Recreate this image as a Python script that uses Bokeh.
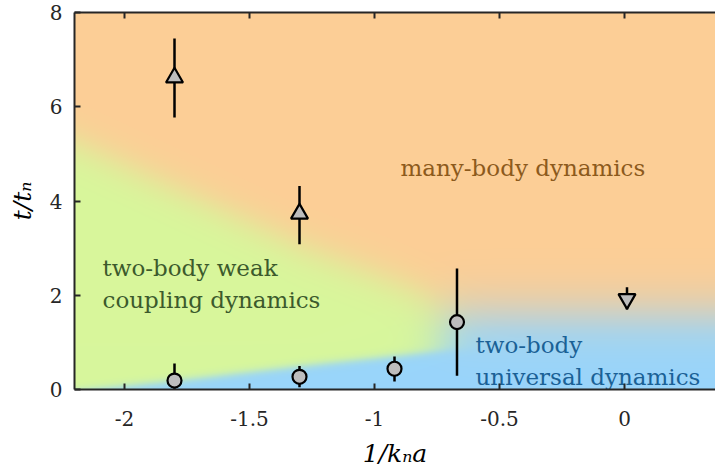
import numpy as np
from bokeh.plotting import figure
from bokeh.models import FixedTicker, LinearAxis, Range1d
from bokeh.core.properties import value
from bokeh.embed import file_html
from bokeh.resources import INLINE

# ---------------- data ----------------
up_x = [-1.8, -1.3]
up_y = [6.62, 3.73]
up_lo = [5.77, 3.08]
up_hi = [7.45, 4.32]

circ_x = [-1.8, -1.3, -0.92, -0.67]
circ_y = [0.19, 0.27, 0.44, 1.43]
circ_lo = [0.0, 0.05, 0.17, 0.29]
circ_hi = [0.55, 0.50, 0.70, 2.57]

down_x = [0.01]
down_y = [1.92]
down_lo = [1.70]
down_hi = [2.17]

x_ticks = [-2, -1.5, -1, -0.5, 0]
x_tick_labels = ["-2", "-1.5", "-1", "-0.5", "0"]
y_ticks = [0, 2, 4, 6, 8]
y_tick_labels = ["0", "2", "4", "6", "8"]

# region boundaries (control points)
og_x = [-2.2, -1.3, -0.75, 0.4]      # orange / green boundary
og_y = [5.25, 3.05, 1.95, 1.95]
gb_x = [-2.2, -1.8, -1.3, -0.7, 0.4]  # green / blue boundary
gb_y = [-0.05, 0.17, 0.48, 0.82, 0.82]
green_edge = -0.73                    # right end of green region
bo_level = 1.6                        # blue / orange boundary on the right

region_labels = ["many-body dynamics", "two-body weak", "coupling dynamics",
                 "two-body", "universal dynamics"]
region_colors = ["#8c5a1c", "#3c5a2c", "#3c5a2c", "#1a6196", "#1a6196"]
label_x = [-0.896, -2.088, -2.088, -0.596, -0.596]
label_y = [4.69, 2.57, 1.89, 0.95, 0.27]

x_lo, x_hi = -2.2, 0.364
y_lo, y_hi = 0.0, 8.0

# ---------------- background field ----------------
orange = np.array([253, 206, 150], float)
green = np.array([216, 247, 156], float)
blue = np.array([153, 213, 251], float)

nx, ny = 520, 380
xs = np.linspace(x_lo, x_hi, nx)
ys = np.linspace(y_lo, y_hi, ny)
X, Y = np.meshgrid(xs, ys)


def sig(t):
    return 1.0 / (1.0 + np.exp(-t))


s_og = sig((Y - np.interp(X, og_x, og_y)) / 0.24)[..., None]
s_gb = sig((Y - np.interp(X, gb_x, gb_y)) / 0.05)[..., None]
s_r = sig((X - green_edge) / 0.05)[..., None]
s_bo = sig((Y - bo_level) / 0.3)[..., None]

c_left = blue * (1 - s_gb) + green * s_gb
c_left = c_left * (1 - s_og) + orange * s_og
c_right = blue * (1 - s_bo) + orange * s_bo
col = c_left * (1 - s_r) + c_right * s_r

rgba = np.empty((ny, nx, 4), dtype=np.uint8)
rgba[..., :3] = np.clip(col, 0, 255).astype(np.uint8)
rgba[..., 3] = 255
img = rgba.view(dtype=np.uint32).reshape((ny, nx))

# ---------------- figure ----------------
FONT = "DejaVu Serif"
AX = "#262626"

p = figure(width=715, height=470, x_range=Range1d(x_lo, x_hi), y_range=Range1d(y_lo, y_hi),
           output_backend="svg", toolbar_location=None,
           min_border_left=74, min_border_right=0, min_border_top=12, min_border_bottom=80)
p.outline_line_color = None
p.xgrid.visible = False
p.ygrid.visible = False

p.image_rgba(image=[img], x=x_lo, y=y_lo, dw=x_hi - x_lo, dh=y_hi - y_lo)

p.segment(x0=up_x, y0=up_lo, x1=up_x, y1=up_hi, line_color="black", line_width=2.5)
p.segment(x0=circ_x, y0=circ_lo, x1=circ_x, y1=circ_hi, line_color="black", line_width=2.5)
p.segment(x0=down_x, y0=down_lo, x1=down_x, y1=down_hi, line_color="black", line_width=2.5)

p.scatter(up_x, up_y, marker="triangle", size=17, fill_color="#bdbdbd",
          line_color="black", line_width=2.2)
p.scatter(circ_x, circ_y, marker="circle", size=14, fill_color="#bdbdbd",
          line_color="black", line_width=2.2)
p.scatter(down_x, down_y, marker="inverted_triangle", size=17, fill_color="#bdbdbd",
          line_color="black", line_width=2.2)

p.text(x=label_x, y=label_y, text=region_labels, text_color=region_colors,
       text_font=value(FONT), text_font_size="23px",
       text_align="left", text_baseline="alphabetic")

# axes
for ax, ticks, labels in ((p.xaxis[0], x_ticks, x_tick_labels), (p.yaxis[0], y_ticks, y_tick_labels)):
    ax.ticker = FixedTicker(ticks=ticks)
    ax.major_label_overrides = {t: l for t, l in zip(ticks, labels)}
    ax.major_label_text_font = FONT
    ax.major_label_text_font_size = "20px"
    ax.major_label_text_color = AX
    ax.axis_line_color = AX
    ax.axis_line_width = 2
    ax.major_tick_in = 6
    ax.major_tick_out = 0
    ax.major_tick_line_width = 2
    ax.major_tick_line_color = AX
    ax.minor_tick_line_color = None
    ax.axis_label_text_font = FONT
    ax.axis_label_text_font_style = "italic"
    ax.axis_label_text_font_size = "25px"
    ax.axis_label_text_color = "black"

p.xaxis[0].axis_label = "1/kₙa"
p.xaxis[0].major_label_standoff = 21
p.xaxis[0].axis_label_standoff = 10
p.yaxis[0].axis_label = "t/tₙ"
p.yaxis[0].major_label_standoff = 12
p.yaxis[0].axis_label_standoff = 10

top = LinearAxis(ticker=FixedTicker(ticks=x_ticks),
                 major_label_overrides={t: "" for t in x_ticks},
                 major_label_text_font_size="1px",
                 major_label_standoff=0, axis_line_color=AX, axis_line_width=2,
                 major_tick_in=6, major_tick_out=0, major_tick_line_width=2,
                 major_tick_line_color=AX, minor_tick_line_color=None)
p.add_layout(top, "above")

open("out.html", "w").write(file_html(p, INLINE))
